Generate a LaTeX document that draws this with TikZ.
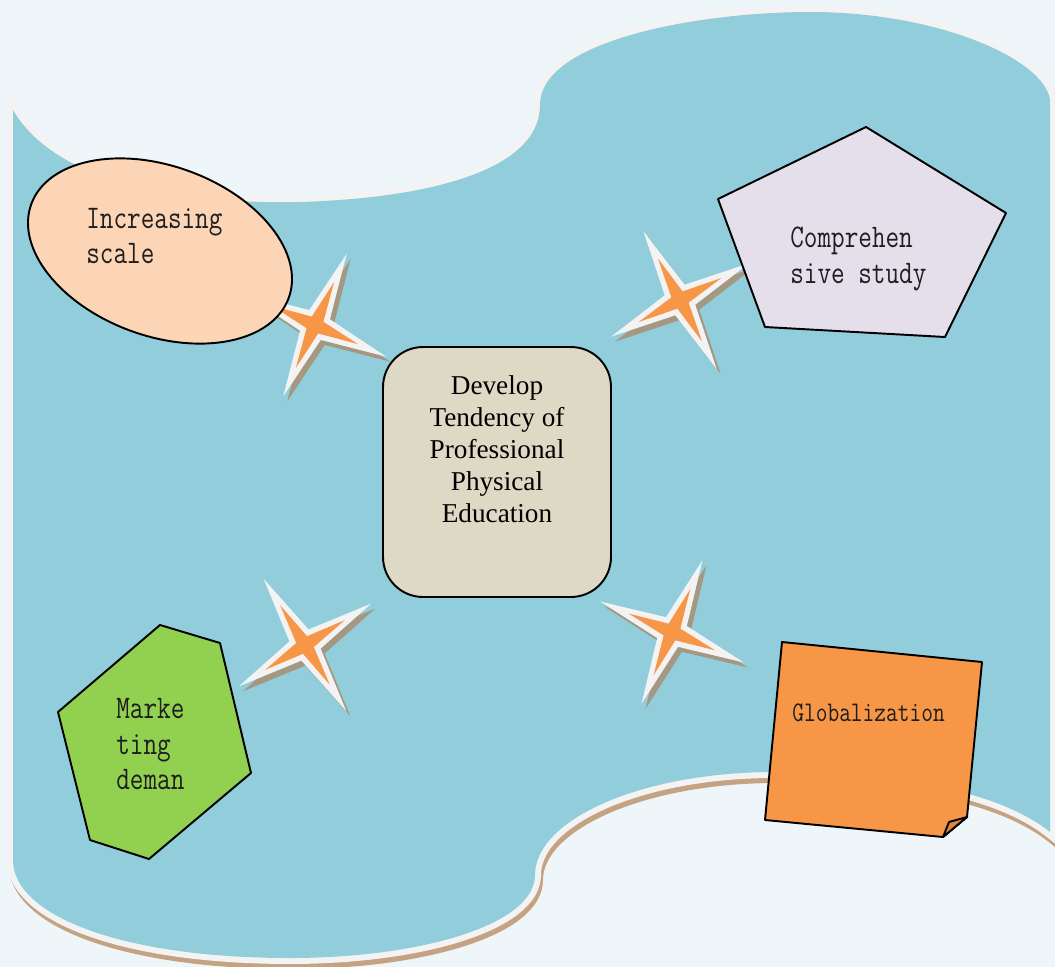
\documentclass[tikz,border=0pt]{standalone}
\usepackage{fontspec}
\setmainfont{Liberation Serif}
\setmonofont{Latin Modern Mono}[FakeStretch=0.8]
\usetikzlibrary{positioning}

\definecolor{paper}{RGB}{238,246,249}
\definecolor{pool}{RGB}{146,205,219}
\definecolor{rimwhite}{RGB}{243,243,243}
\definecolor{rimtan}{RGB}{196,162,130}
\definecolor{sparkshade}{RGB}{165,152,130}
\definecolor{sparkorange}{RGB}{247,150,70}
\definecolor{peach}{RGB}{251,213,181}
\definecolor{lavender}{RGB}{229,223,236}
\definecolor{leafgreen}{RGB}{146,208,80}
\definecolor{noteorange}{RGB}{247,150,70}
\definecolor{notefold}{RGB}{222,134,60}
\definecolor{boxbeige}{RGB}{221,217,196}
\definecolor{textgray}{RGB}{30,30,30}

% four pointed star: style, angle, outer, inner
\newcommand\starshape[4]{\fill[#1] (#2:#3) -- ({#2+45}:#4) -- ({#2+90}:#3) -- ({#2+135}:#4)
  -- ({#2+180}:#3) -- ({#2+225}:#4) -- ({#2+270}:#3) -- ({#2+315}:#4) -- cycle;}
\newcommand\sparkle[2]{%
  \begin{scope}[shift={#1}]
    \starshape{sparkshade, shift={(4,5)}}{#2}{78}{16}
    \starshape{rimwhite}{#2}{78}{16}
    \starshape{sparkorange}{#2}{47}{9}
  \end{scope}}

\begin{document}
\begin{tikzpicture}[x=0.02cm, y=-0.02cm,
    rimshadow/.style={draw=rimtan, line width=6.8pt, shift={(2,5)}},
    rimline/.style={draw=rimwhite, line width=6.8pt},
    poolfill/.style={fill=pool},
    shapeline/.style={draw=black, line width=1.1pt, line join=round},
    tag/.style={font=\ttfamily\fontsize{18.8}{20}\selectfont, text=textgray,
      align=left, anchor=west, inner sep=0pt}]
    \useasboundingbox[fill=paper] (0,0) rectangle (1055,967);

    % the blue pool
    \foreach \st in {rimshadow, rimline, poolfill}
      \path[\st] (13,110) .. controls (60,190) and (200,204) .. (300,202)
        .. controls (430,198) and (540,170) .. (540,105)
        .. controls (540,40) and (700,12) .. (810,12)
        .. controls (940,12) and (1045,60) .. (1050,100) -- (1050,832)
        .. controls (1000,792) and (900,772) .. (775,772)
        .. controls (640,772) and (535,820) .. (535,875)
        .. controls (535,925) and (420,958) .. (290,958)
        .. controls (120,958) and (13,915) .. (13,860) -- cycle;

    \sparkle{(315,325)}{24}
    \sparkle{(680,300)}{-28}
    \sparkle{(305,645)}{-32}
    \sparkle{(672,632)}{23}

    % shapes round the centre
    \draw[shapeline, fill=peach, rotate around={-20:(160,251)}]
      (160,251) ellipse [x radius=137, y radius=85];
    \draw[shapeline, fill=lavender] (866,127) -- (1006,213) -- (945,337) -- (765,327) -- (718,199) -- cycle;
    \draw[shapeline, fill=leafgreen] (160,625) -- (220,643) -- (251,773) -- (149,859) -- (90,840) -- (58,712) -- cycle;
    \draw[shapeline, fill=noteorange] (782,642) -- (982,662) -- (967,817) -- (943,837) -- (765,820) -- cycle;
    \draw[shapeline, fill=notefold] (967,817) -- (943,837) -- (949,822) -- cycle;

    \node[shapeline, fill=boxbeige, minimum width=4.56cm, minimum height=5cm,
      rounded corners=0.8cm] (devbox) at (497,472) {};
    \node[font=\fontsize{15.5}{18.2}\selectfont, align=center] (devtext) at (497,449)
      {Develop\\Tendency of\\Professional\\Physical\\Education};

    \node[tag] (scale) at (86,236) {Increasing\\scale};
    \node[tag] (study) at (790,259) {Comprehen\\sive study};
    \node[tag] (market) at (116,744) {Marke\\ting\\deman};
    \node[tag, font=\ttfamily\fontsize{16.2}{18}\selectfont] (global) at (792,713) {Globalization};
\end{tikzpicture}
\end{document}
